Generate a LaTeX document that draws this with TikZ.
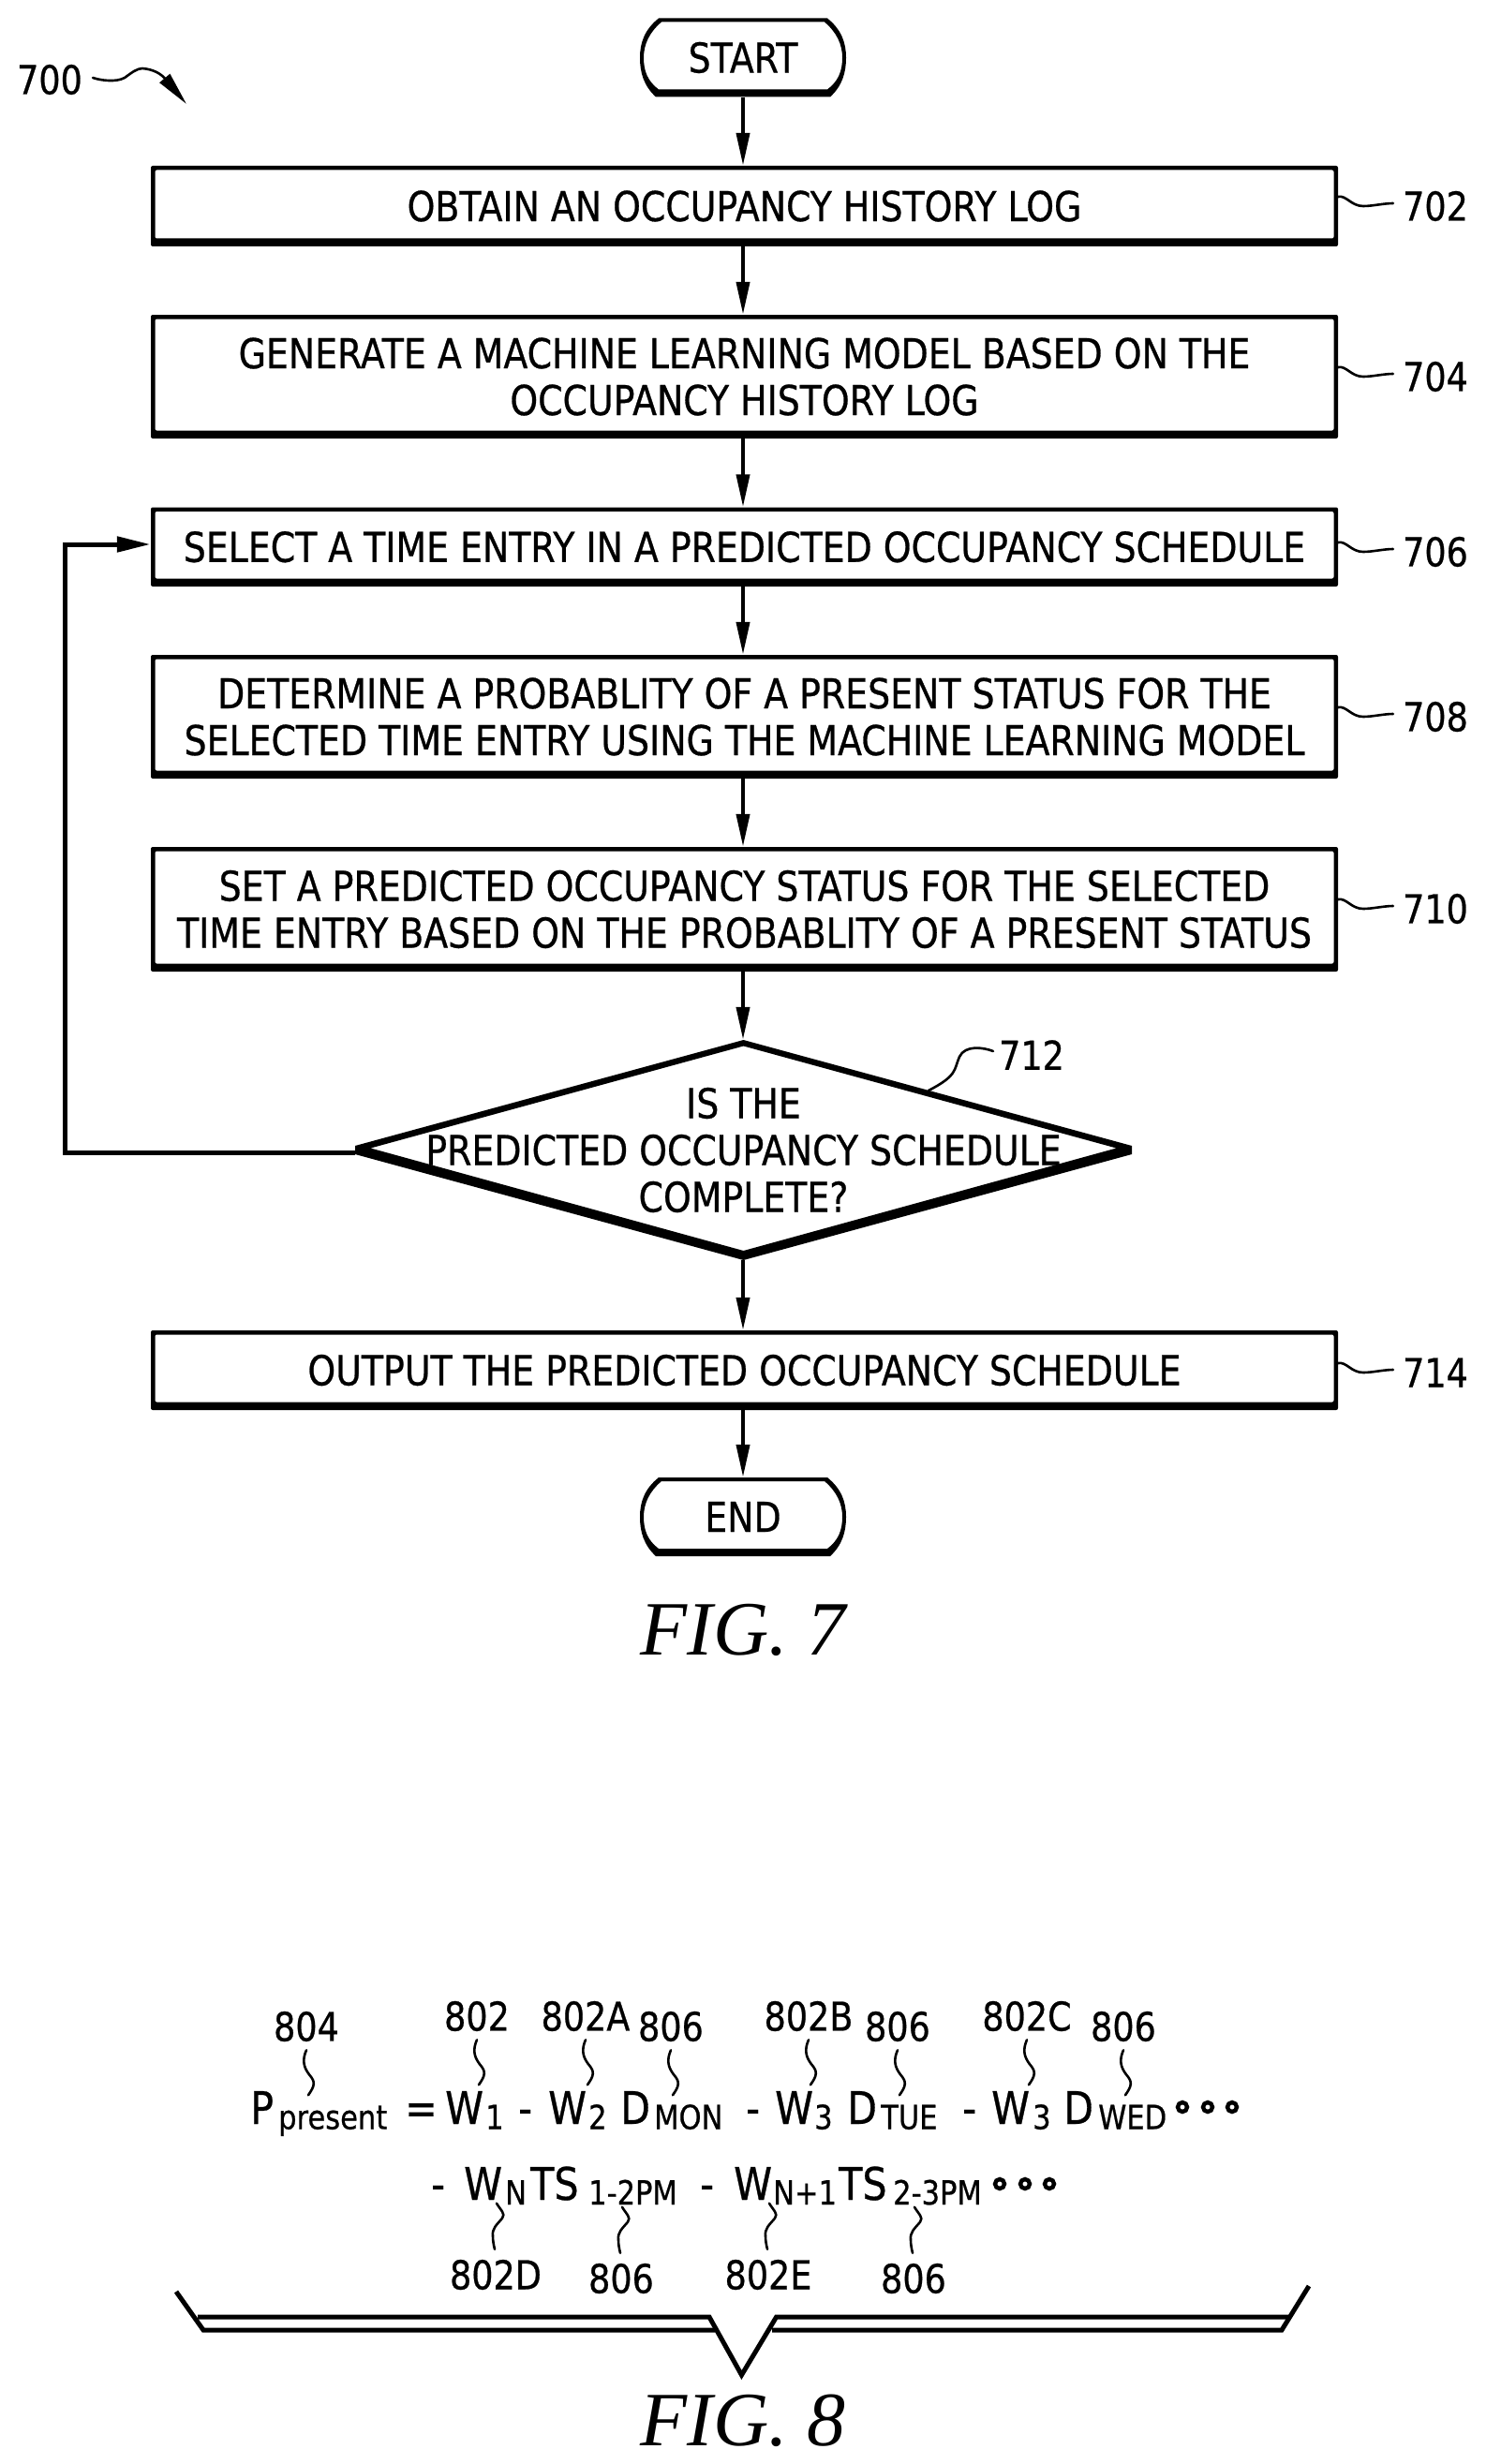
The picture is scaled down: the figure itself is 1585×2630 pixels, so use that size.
\documentclass[tikz,border=0pt]{standalone}
\usepackage{fontspec}
\setmainfont{DejaVu Sans}[FakeStretch=0.86,FakeBold=0.6]
\newfontfamily\figfont{Liberation Serif}
\usetikzlibrary{arrows.meta,calc}
\tikzset{
  flow/.style={line width=4pt,-{Triangle[length=35pt,width=14pt]}},
  backflow/.style={line width=5pt,-{Triangle[length=36pt,width=16pt]}},
  lead/.style={line width=2.6pt,line cap=round},
  bracket/.style={line width=5pt,line join=miter},
  ring/.style={line width=4.4pt},
  txt/.style={font=\fontsize{44}{50}\selectfont,align=center,inner sep=0pt},
  ref/.style={font=\fontsize{42.5}{42.5}\selectfont,inner sep=0pt},
  big/.style={font=\fontsize{48}{48}\selectfont,inner sep=0pt,anchor=base west},
  small/.style={font=\fontsize{35.5}{35.5}\selectfont,inner sep=0pt,anchor=base west},
  figlab/.style={font=\fontsize{82}{82}\figfont\itshape\selectfont,inner sep=0pt,anchor=base},
  anchorbox/.style={rectangle,inner sep=0pt,minimum width=#1},
  procbox/.style={rectangle,inner sep=0pt,minimum width=1267pt,fill=black,rounded corners=2pt,
    font=\fontsize{44}{50}\selectfont,align=center,
    path picture={\fill[white] ($(path picture bounding box.south west)+(4.5,-8.5)$) rectangle
      ($(path picture bounding box.north east)+(-4.5,4.5)$);}},
}
\newcommand{\termshape}[1]{%
  \fill[even odd rule,shift={(#1.center)}]
    (-90,-42) -- (90,-42) .. controls (105,-30) and (110,-16) .. (110,0)
      .. controls (110,16) and (106,30) .. (93,42) -- (-93,42)
      .. controls (-106,30) and (-110,16) .. (-110,0)
      .. controls (-110,-16) and (-105,-30) .. (-90,-42) -- cycle
    (-87,-38) -- (87,-38) .. controls (100,-27) and (106,-14) .. (106,0)
      .. controls (106,14) and (102,25) .. (90,34) -- (-90,34)
      .. controls (-102,25) and (-106,14) .. (-106,0)
      .. controls (-106,-14) and (-100,-27) .. (-87,-38) -- cycle;}
\newcommand{\sidelead}[1]{%
  \draw[lead,shift={(#1.west)}] (-69,-10) .. controls (-60,-12) and (-55,0) .. (-42,0)
    .. controls (-32,0) and (-20,-3) .. (-10,-3);}
\newcommand{\leadbelow}[1]{%
  \draw[lead,shift={(#1.south)}] (0,9) .. controls (-4,18) and (-4,26) .. (3,35)
    .. controls (10,43) and (9,47) .. (2,57);}
\newcommand{\leadabove}[1]{%
  \draw[lead,shift={(#1.north)}] (1,-60) .. controls (5,-53) and (11,-49) .. (7,-44)
    .. controls (1,-37) and (-4,-33) .. (-3,-25) .. controls (-3,-20) and (-2,-15) .. (-1,-11);}
\begin{document}
\begin{tikzpicture}[x=1pt,y=-1pt]
\useasboundingbox (0,0) rectangle (1585,2630);
\fill[white] (0,0) rectangle (1585,2630);

% flowchart nodes
\node[txt,anchorbox=220pt,minimum height=84pt] (start) at (793,61.5) {START};
\termshape{start}
\node[procbox,minimum height=86pt] (b702) at (794.5,220) {OBTAIN AN OCCUPANCY HISTORY LOG};
\node[procbox,minimum height=132pt] (b704) at (794.5,402) {GENERATE A MACHINE LEARNING MODEL BASED ON THE\\OCCUPANCY HISTORY LOG};
\node[procbox,minimum height=84.5pt] (b706) at (794.5,583.75) {SELECT A TIME ENTRY IN A PREDICTED OCCUPANCY SCHEDULE};
\node[procbox,minimum height=132pt] (b708) at (794.5,765) {DETERMINE A PROBABLITY OF A PRESENT STATUS FOR THE\\SELECTED TIME ENTRY USING THE MACHINE LEARNING MODEL};
\node[procbox,minimum height=133pt] (b710) at (794.5,970.5) {SET A PREDICTED OCCUPANCY STATUS FOR THE SELECTED\\TIME ENTRY BASED ON THE PROBABLITY OF A PRESENT STATUS};
\node[anchorbox=829pt,minimum height=235pt] (d712) at (793.5,1227.5) {};
\fill[even odd rule,shift={(d712.center)}]
  (0,-117.5) -- (414.5,-4.5) -- (414.5,4.5) -- (0,117.5) -- (-414.5,4.5) -- (-414.5,-4.5) -- cycle
  (0,-111) -- (398,-2) -- (0,107.5) -- (-398,-2) -- cycle;
\node[txt] (d712t) at (d712.center) {IS THE\\PREDICTED OCCUPANCY SCHEDULE\\COMPLETE?};
\node[procbox,minimum height=85pt] (b714) at (794.5,1462.5) {OUTPUT THE PREDICTED OCCUPANCY SCHEDULE};
\node[txt,anchorbox=220pt,minimum height=84pt] (end) at (793,1619) {END};
\termshape{end}

% connectors
\draw[flow] (start.south) -- (start.south |- b702.north);
\draw[flow] (start.south |- b702.south) -- (start.south |- b704.north);
\draw[flow] (start.south |- b704.south) -- (start.south |- b706.north);
\draw[flow] (start.south |- b706.south) -- (start.south |- b708.north);
\draw[flow] (start.south |- b708.south) -- (start.south |- b710.north);
\draw[flow] (start.south |- b710.south) -- (start.south |- d712.north);
\draw[flow] (start.south |- d712.south) -- (start.south |- b714.north);
\draw[flow] (start.south |- b714.south) -- (end.north);
\coordinate (fb) at (69,581);
\draw[backflow] ([yshift=-2.5pt]d712.west) -| (fb) -- (fb -| b706.west);

% reference labels, flowchart
\node[ref] (l700) at (53,85) {700};
\coordinate (a700) at (199,111);
\draw[lead,-{Triangle[length=36pt,width=14pt]}] (l700.east) ++(11,-2)
  .. controls (108,86) and (124,88) .. (133,83)
  .. controls (140,78) and (146,73) .. (152,73)
  .. controls (164,74) and (172,79) .. (a700);
\foreach \n/\y in {702/220,704/402,706/589,708/765,710/970,714/1465}{
  \node[ref] (l\n) at (1532,\y) {\n};
  \sidelead{l\n}
}
\node[ref] (l712) at (1101,1126) {712};
\draw[lead] ([shift={(-6,-4)}]l712.west) .. controls (1050,1118) and (1030,1115) .. (1024,1128)
  .. controls (1018,1142) and (1022,1148) .. (991,1164);
\node[figlab] (fig7) at (793,1766) {FIG. 7};

% equation, first line
\foreach \n/\x/\s in {P/267/P,eq/432/=,wa/475/W,ma/553/-,wb/585/W,da/662/D,mb/796/-,wc/827/W,db/904/D,mc/1027/-,wd/1058/W,dc/1135/D}{
  \node[big] (e\n) at (\x,2267) {\s};
}
\foreach \n/\x/\s in {pr/297/present,sa/518/1,sb/628/2,mon/698/MON,sc/869/3,tue/940/TUE,sd/1102/3,wed/1172/WED}{
  \node[small] (e\n) at (\x,2272.5) {\s};
}
\foreach \x in {1262,1289,1315}{\draw[ring] (\x,2249) circle (5);}

% equation, second line
\foreach \n/\x/\s in {mf/460/-,we/495/W,ts/566/TS,mg/747/-,wf/783/W,tt/895/TS}{
  \node[big] (f\n) at (\x,2348) {\s};
}
\foreach \n/\x/\s in {sn/539/N,pa/628/1-2PM,sm/825/N+1,pb/953/2-3PM}{
  \node[small] (f\n) at (\x,2353) {\s};
}
\foreach \x in {1067,1094,1120}{\draw[ring] (\x,2331) circle (5);}

% reference labels, equation
\foreach \n/\x/\y/\s in {a/327/2163/804,b/509/2152/802,c/625/2152/802A,d/716/2163/806,e/863/2152/802B,f/958/2163/806,g/1096/2152/802C,h/1199/2163/806}{
  \node[ref] (r\n) at (\x,\y) {\s};
  \leadbelow{r\n}
}
\foreach \n/\x/\y/\s in {i/529/2428/802D,j/663/2432/806,k/820/2428/802E,l/975/2432/806}{
  \node[ref] (r\n) at (\x,\y) {\s};
  \leadabove{r\n}
}

% bracket
\draw[bracket] (188,2446) -- (217,2487) -- (763,2487);
\draw[bracket] (211,2473) -- (757,2473) -- (791.5,2535) -- (828.6,2473) -- (1375,2473);
\draw[bracket] (824,2487) -- (1368,2487) -- (1397,2440);
\node[figlab] (fig8) at (793,2610) {FIG. 8};
\end{tikzpicture}
\end{document}
